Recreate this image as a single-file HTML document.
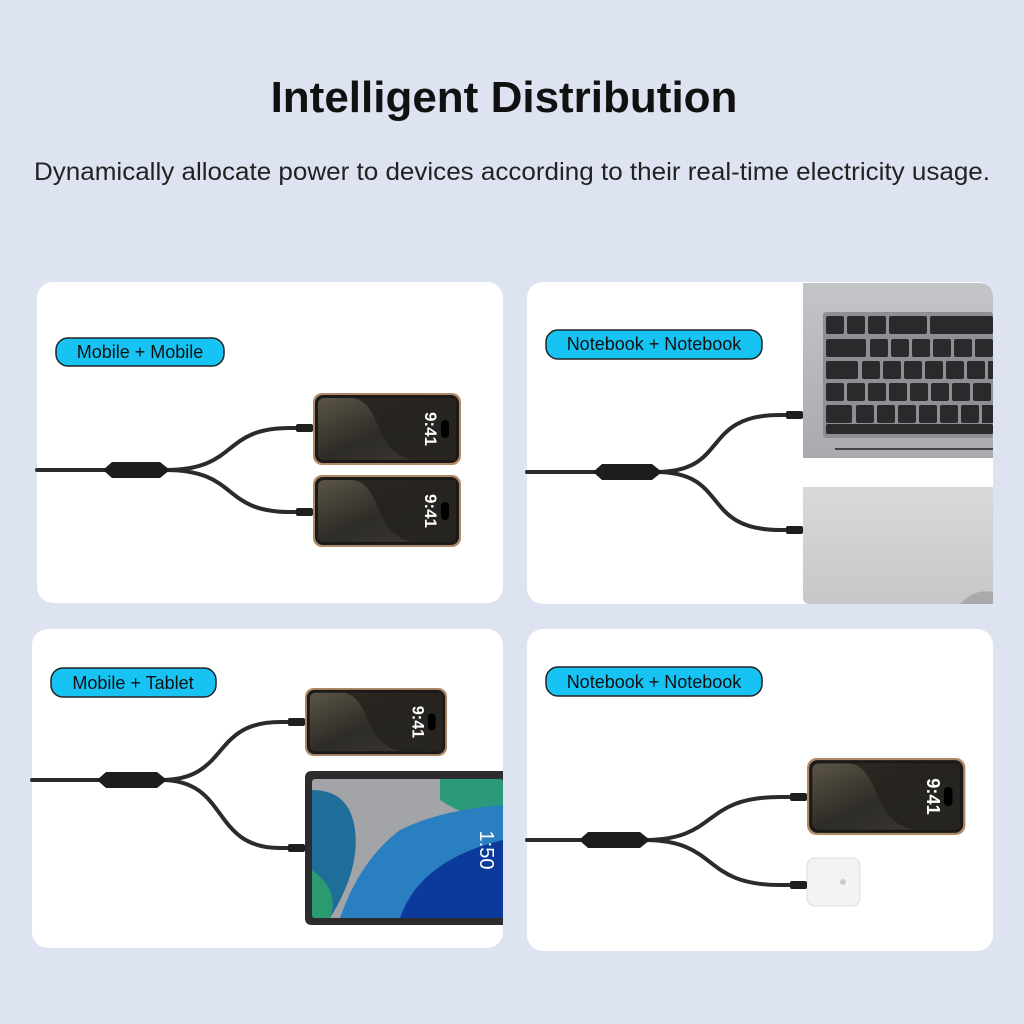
<!DOCTYPE html>
<html><head><meta charset="utf-8"><style>
html,body{margin:0;padding:0;background:#dde3f1;}
svg{display:block}
</style></head><body>
<svg width="1024" height="1024" viewBox="0 0 1024 1024" xmlns="http://www.w3.org/2000/svg" font-family="Liberation Sans, sans-serif">
<defs>
<linearGradient id="scr" x1="0" y1="0" x2="1" y2="1"><stop offset="0" stop-color="#5b5546"/><stop offset="0.5" stop-color="#2e2c27"/><stop offset="1" stop-color="#3d3a33"/></linearGradient>
<linearGradient id="lap" x1="0" y1="0" x2="0" y2="1"><stop offset="0" stop-color="#c4c5c8"/><stop offset="1" stop-color="#a9aaad"/></linearGradient>
<linearGradient id="lap2" x1="0" y1="0" x2="0" y2="1"><stop offset="0" stop-color="#d8d9db"/><stop offset="1" stop-color="#c6c7c9"/></linearGradient>
</defs>
<rect width="1024" height="1024" fill="#dde3f1"/>
<text x="504" y="112" text-anchor="middle" font-size="44" font-weight="bold" fill="#111">Intelligent Distribution</text>
<text x="512" y="180" text-anchor="middle" font-size="25" fill="#222" textLength="956" lengthAdjust="spacingAndGlyphs">Dynamically allocate power to devices according to their real-time electricity usage.</text>

<rect x="37" y="282" width="466" height="321" rx="16" fill="#fff"/>
<rect x="527" y="282" width="466" height="322" rx="16" fill="#fff"/>
<rect x="32" y="629" width="471" height="319" rx="16" fill="#fff"/>
<rect x="527" y="629" width="466" height="322" rx="16" fill="#fff"/>

<g font-size="18" fill="#111">
<rect x="56" y="338" width="168" height="28" rx="12" fill="#17c3f2" stroke="#222" stroke-width="1.5"/>
<text x="140" y="358" text-anchor="middle">Mobile + Mobile</text>
<rect x="546" y="330" width="216" height="29" rx="12" fill="#17c3f2" stroke="#222" stroke-width="1.5"/>
<text x="654" y="350" text-anchor="middle">Notebook + Notebook</text>
<rect x="51" y="668" width="165" height="29" rx="12" fill="#17c3f2" stroke="#222" stroke-width="1.5"/>
<text x="133" y="689" text-anchor="middle">Mobile + Tablet</text>
<rect x="546" y="667" width="216" height="29" rx="12" fill="#17c3f2" stroke="#222" stroke-width="1.5"/>
<text x="654" y="688" text-anchor="middle">Notebook + Notebook</text>
</g>

<path d="M803,283 H978 Q993,283 993,298 V458 H803 Z" fill="url(#lap)"/>
<rect x="823" y="312" width="170" height="126" rx="3" fill="#8e8f92"/>
<g fill="#2a2a2c">
<rect x="826" y="316" width="18" height="18" rx="2"/><rect x="847" y="316" width="18" height="18" rx="2"/><rect x="868" y="316" width="18" height="18" rx="2"/><rect x="889" y="316" width="38" height="18" rx="2"/><rect x="930" y="316" width="63" height="18" rx="2"/>
<rect x="826" y="339" width="40" height="18" rx="2"/><rect x="870" y="339" width="18" height="18" rx="2"/><rect x="891" y="339" width="18" height="18" rx="2"/><rect x="912" y="339" width="18" height="18" rx="2"/><rect x="933" y="339" width="18" height="18" rx="2"/><rect x="954" y="339" width="18" height="18" rx="2"/><rect x="975" y="339" width="18" height="18" rx="2"/>
<rect x="826" y="361" width="32" height="18" rx="2"/><rect x="862" y="361" width="18" height="18" rx="2"/><rect x="883" y="361" width="18" height="18" rx="2"/><rect x="904" y="361" width="18" height="18" rx="2"/><rect x="925" y="361" width="18" height="18" rx="2"/><rect x="946" y="361" width="18" height="18" rx="2"/><rect x="967" y="361" width="18" height="18" rx="2"/><rect x="988" y="361" width="5" height="18"/>
<rect x="826" y="383" width="18" height="18" rx="2"/><rect x="847" y="383" width="18" height="18" rx="2"/><rect x="868" y="383" width="18" height="18" rx="2"/><rect x="889" y="383" width="18" height="18" rx="2"/><rect x="910" y="383" width="18" height="18" rx="2"/><rect x="931" y="383" width="18" height="18" rx="2"/><rect x="952" y="383" width="18" height="18" rx="2"/><rect x="973" y="383" width="18" height="18" rx="2"/>
<rect x="826" y="405" width="26" height="18" rx="2"/><rect x="856" y="405" width="18" height="18" rx="2"/><rect x="877" y="405" width="18" height="18" rx="2"/><rect x="898" y="405" width="18" height="18" rx="2"/><rect x="919" y="405" width="18" height="18" rx="2"/><rect x="940" y="405" width="18" height="18" rx="2"/><rect x="961" y="405" width="18" height="18" rx="2"/><rect x="982" y="405" width="11" height="18"/>
<rect x="826" y="424" width="167" height="10" rx="2"/>
</g>
<rect x="835" y="448" width="158" height="2" fill="#444"/>
<path d="M803,487 H993 V604 H810 Q803,604 803,597 Z" fill="url(#lap2)"/>
<path d="M960,604 Q975,588 993,592 V604 Z" fill="#aaa"/>

<!-- tablet -->
<path d="M503,771 H312 Q305,771 305,778 V918 Q305,925 312,925 H503 Z" fill="#2c2c2e"/>
<clipPath id="tc"><rect x="312" y="779" width="191" height="139" rx="3"/></clipPath>
<g clip-path="url(#tc)">
<rect x="312" y="779" width="191" height="139" fill="#a3a4a8"/>
<path d="M312,790 Q350,790 355,830 Q360,870 330,918 H312 Z" fill="#1f6e9a"/>
<path d="M440,779 H503 V820 Q470,820 440,800 Z" fill="#2b9a7a"/>
<path d="M340,918 Q360,860 400,830 Q440,810 503,805 V918 Z" fill="#2a7fc0"/>
<path d="M400,918 Q420,860 503,840 V918 Z" fill="#0b3a9a"/>
<path d="M312,870 Q340,890 330,918 H312 Z" fill="#2b9a6e"/>
</g>
<text x="480" y="850" transform="rotate(90 480 850)" font-size="20" fill="#fff" text-anchor="middle">1:50</text>

<rect x="807" y="858" width="53" height="48" rx="8" fill="#f3f3f3" stroke="#ddd"/>
<circle cx="843" cy="882" r="3" fill="#ccc"/>

<g transform="translate(313,393)">
<rect width="148" height="72" rx="9" fill="#b08a68"/><rect x="2" y="2" width="144" height="68" rx="8" fill="#1b1a18"/>
<rect x="5" y="5" width="138" height="62" rx="6" fill="url(#scr)"/>
<path d="M40,5 C70,10 60,60 100,67 L143,67 V5 Z" fill="#24221e" opacity="0.85"/>
<rect x="128" y="27" width="8" height="18" rx="4" fill="#000"/>
<text x="112" y="36" transform="rotate(90 112 36)" text-anchor="middle" font-size="17" font-weight="bold" fill="#fff">9:41</text>
</g>
<g transform="translate(313,475)">
<rect width="148" height="72" rx="9" fill="#b08a68"/><rect x="2" y="2" width="144" height="68" rx="8" fill="#1b1a18"/>
<rect x="5" y="5" width="138" height="62" rx="6" fill="url(#scr)"/>
<path d="M40,5 C70,10 60,60 100,67 L143,67 V5 Z" fill="#24221e" opacity="0.85"/>
<rect x="128" y="27" width="8" height="18" rx="4" fill="#000"/>
<text x="112" y="36" transform="rotate(90 112 36)" text-anchor="middle" font-size="17" font-weight="bold" fill="#fff">9:41</text>
</g>
<g transform="translate(305,688) scale(0.96,0.944)">
<rect width="148" height="72" rx="9" fill="#b08a68"/><rect x="2" y="2" width="144" height="68" rx="8" fill="#1b1a18"/>
<rect x="5" y="5" width="138" height="62" rx="6" fill="url(#scr)"/>
<path d="M40,5 C70,10 60,60 100,67 L143,67 V5 Z" fill="#24221e" opacity="0.85"/>
<rect x="128" y="27" width="8" height="18" rx="4" fill="#000"/>
<text x="112" y="36" transform="rotate(90 112 36)" text-anchor="middle" font-size="17" font-weight="bold" fill="#fff">9:41</text>
</g>
<g transform="translate(807,758) scale(1.07,1.07)">
<rect width="148" height="72" rx="9" fill="#b08a68"/><rect x="2" y="2" width="144" height="68" rx="8" fill="#1b1a18"/>
<rect x="5" y="5" width="138" height="62" rx="6" fill="url(#scr)"/>
<path d="M40,5 C70,10 60,60 100,67 L143,67 V5 Z" fill="#24221e" opacity="0.85"/>
<rect x="128" y="27" width="8" height="18" rx="4" fill="#000"/>
<text x="112" y="36" transform="rotate(90 112 36)" text-anchor="middle" font-size="17" font-weight="bold" fill="#fff">9:41</text>
</g>

<g fill="none" stroke="#2b2b2b" stroke-width="4" stroke-linecap="round">
<path d="M37,470 H110"/><path d="M165,470 C240,470 220,428 290,428 H300"/><path d="M165,470 C240,470 220,512 290,512 H300"/>
<path d="M527,472 H600"/><path d="M656,472 C730,472 700,415 780,415 H790"/><path d="M656,472 C730,472 700,530 780,530 H790"/>
<path d="M32,780 H104"/><path d="M161,780 C230,780 210,722 280,722 H290"/><path d="M161,780 C230,780 210,848 280,848 H290"/>
<path d="M527,840 H586"/><path d="M644,840 C720,840 700,797 780,797 H790"/><path d="M644,840 C720,840 700,885 780,885 H790"/>
</g>
<g fill="#1e1e1e">
<path d="M103,470 L112,462 H160 L170,470 L160,478 H112 Z"/>
<path d="M593,472 L602,464 H652 L662,472 L652,480 H602 Z"/>
<path d="M97,780 L106,772 H157 L167,780 L157,788 H106 Z"/>
<path d="M579,840 L588,832 H640 L650,840 L640,848 H588 Z"/>
<rect x="296" y="424" width="17" height="8" rx="2"/><rect x="296" y="508" width="17" height="8" rx="2"/>
<rect x="786" y="411" width="17" height="8" rx="2"/><rect x="786" y="526" width="17" height="8" rx="2"/>
<rect x="288" y="718" width="17" height="8" rx="2"/><rect x="288" y="844" width="17" height="8" rx="2"/>
<rect x="790" y="793" width="17" height="8" rx="2"/><rect x="790" y="881" width="17" height="8" rx="2"/>
</g>
</svg>
</body></html>
